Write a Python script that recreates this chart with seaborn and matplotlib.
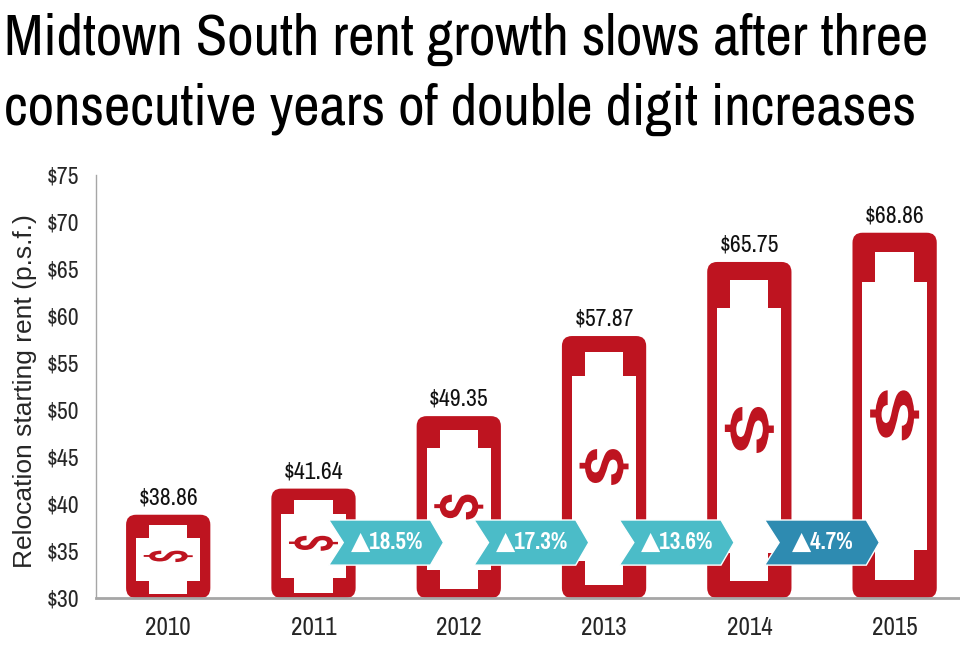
import matplotlib
matplotlib.use("Agg")
import matplotlib.pyplot as plt
import matplotlib.transforms as mtransforms
from matplotlib.font_manager import FontProperties
from matplotlib.patches import FancyBboxPatch, Polygon, PathPatch
from matplotlib.textpath import TextPath
import seaborn as sns

years = ["2010", "2011", "2012", "2013", "2014", "2015"]
rents = [38.86, 41.64, 49.35, 57.87, 65.75, 68.86]
growth = [18.5, 17.3, 13.6, 4.7]   # 2011->2012 ... 2014->2015
y_ticks = [30, 35, 40, 45, 50, 55, 60, 65, 70, 75]

title = "Midtown South rent growth slows after three\nconsecutive years of double digit increases"
y_label = "Relocation starting rent (p.s.f.)"

RED = "#BE1420"
TEAL = "#4BBCC8"
BLUE = "#2E8BB1"
AXIS = "#A6A6A6"
BASE = 30

sns.set_theme(style="white")
# narrow grotesque, close to the Arial Narrow look of the original
plt.rcParams["font.family"] = ["Archivo Narrow", "Liberation Sans", "DejaVu Sans"]
BOLD = ["Pragati Narrow", "DejaVu Sans"]

fig = plt.figure(figsize=(9.6, 6.54), dpi=100)
ax = fig.add_axes([0.1, 0.0856, 0.9, 0.6468])

sns.barplot(x=years, y=rents, color=RED, width=0.58, saturation=1, ax=ax)
ax.set_ylim(BASE, 75)
ax.set_xlim(-0.497, 5.45)

# pixels per data unit
p0 = ax.transData.transform((0, BASE))
p1 = ax.transData.transform((1, BASE + 1))
ppx, ppy = p1[0] - p0[0], p1[1] - p0[1]

# dollar glyph, rotated on its side and normalised to a unit box
glyph = TextPath((0, 0), "$", size=100, prop=FontProperties(family="Roboto", weight="bold"))
glyph = glyph.transformed(mtransforms.Affine2D().rotate_deg(90))
ext = glyph.get_extents()
glyph = glyph.transformed(mtransforms.Affine2D()
                          .translate(-ext.x0 - ext.width / 2, -ext.y0 - ext.height / 2)
                          .scale(1 / ext.width, 1 / ext.height))

centers = []
for bar in list(ax.patches):
    x0, w, top = bar.get_x(), bar.get_width(), bar.get_height()
    bar.remove()
    h = top - BASE
    hp = h * ppy
    cx = x0 + w / 2
    centers.append(cx)

    # bill outline
    ax.add_patch(FancyBboxPatch((x0, BASE), w, h,
                                boxstyle=f"round,pad=0,rounding_size={10 / ppx}",
                                mutation_aspect=ppx / ppy, fc=RED, ec="none", zorder=2))
    # white inside with notched tabs
    si, ti = 10 / ppx, 23 / ppx
    t_in = (8 + 0.03 * hp) / ppy
    b_in = 0.05 * hp / ppy
    tab = (8 + 0.06 * hp) / ppy
    xl, xr = x0, x0 + w
    yb, yt = BASE + b_in, top - t_in
    pts = [(xl + ti, yb), (xr - ti, yb), (xr - ti, yb + tab), (xr - si, yb + tab),
           (xr - si, yt - tab), (xr - ti, yt - tab), (xr - ti, yt), (xl + ti, yt),
           (xl + ti, yt - tab), (xl + si, yt - tab), (xl + si, yb + tab), (xl + ti, yb + tab)]
    ax.add_patch(Polygon(pts, closed=True, fc="white", ec="none", zorder=3))

    # dollar sign, stretched with the bill
    tr = (mtransforms.Affine2D().scale(49, 0.137 * hp)
          + mtransforms.ScaledTranslation(cx, BASE + h / 2, ax.transData))
    ax.add_patch(PathPatch(glyph, transform=tr, fc=RED, ec="none", zorder=4))

    ax.annotate(f"${top:.2f}", (cx, top), xytext=(0, 4.5), textcoords="offset points",
                ha="center", va="bottom", fontsize=17, color="#111111")

# growth chevrons between bars
cw, notch, tip = 0.79, 0.10, 0.09
y_lo, y_hi = 33.5, 38.3
y_mid = (y_lo + y_hi) / 2
for i, g in enumerate(growth):
    c = (centers[i + 1] + centers[i + 2]) / 2
    xl, xr = c - cw / 2, c + cw / 2 - tip
    pts = [(xl, y_lo), (xr, y_lo), (xr + tip, y_mid), (xr, y_hi), (xl, y_hi), (xl + notch, y_mid)]
    col = BLUE if i == len(growth) - 1 else TEAL
    ax.add_patch(Polygon(pts, closed=True, fc=col, ec="white", lw=1, zorder=5))
    ax.text(c + 0.005, y_mid, f"\u25B2{g}%", ha="center", va="center", family=BOLD,
            fontsize=18, fontweight="bold", color="white", zorder=6)

ax.set_yticks(y_ticks)
ax.set_yticklabels([f"${t}" for t in y_ticks], fontsize=17)
ax.tick_params(axis="x", labelsize=18, length=0, pad=13)
ax.tick_params(axis="y", length=0, pad=12)
ax.set_xlabel("")
ax.set_ylabel(y_label, fontsize=19, family="Liberation Sans")
ax.yaxis.set_label_coords(-0.068, 0.49)

sns.despine(ax=ax)
ax.spines["left"].set_color(AXIS)
ax.spines["left"].set_linewidth(1.0)
ax.spines["bottom"].set_color(AXIS)
ax.spines["bottom"].set_linewidth(2.0)
ax.spines["bottom"].set_zorder(7)

fig.text(0.004, 0.981, title, ha="left", va="top", fontsize=41.5, color="black", linespacing=1.41)

fig.savefig("out.png", dpi=100)
